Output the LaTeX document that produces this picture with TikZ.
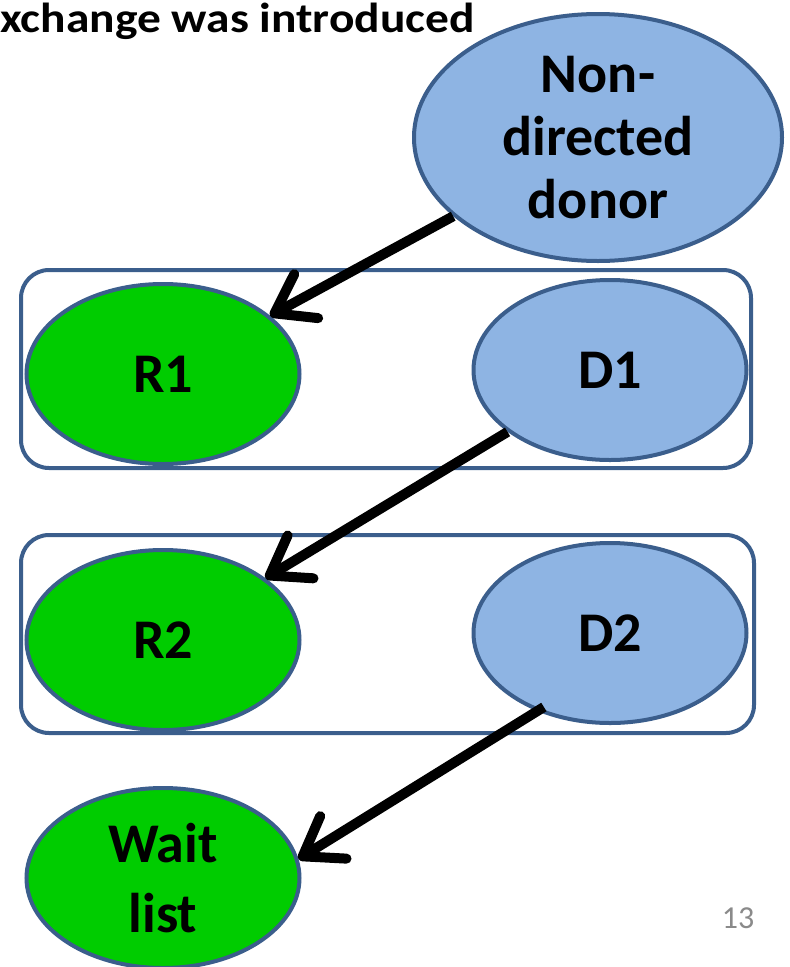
\documentclass[tikz,border=0pt]{standalone}
\usepackage{fontspec}
\setmainfont{Carlito}
\usetikzlibrary{shapes.geometric,arrows.meta}
\definecolor{donorblue}{HTML}{8EB4E3}
\definecolor{edgeblue}{HTML}{3B5E8C}
\definecolor{recipgreen}{HTML}{00CC00}
\definecolor{pagegray}{HTML}{8A8A8A}
\begin{document}
\begin{tikzpicture}[x=1pt,y=-1pt,
    person/.style={ellipse,draw=edgeblue,line width=4pt,inner sep=0pt,align=center,
        font=\fontsize{56}{63}\selectfont\bfseries,minimum width=273pt,minimum height=180pt},
    donor/.style={person,fill=donorblue},
    recip/.style={person,fill=recipgreen},
    pairbox/.style={draw=edgeblue,line width=4pt,rounded corners=28pt,minimum width=730pt,minimum height=198pt},
    gift/.style={line width=10pt,-{Straight Barb[length=36pt,width=50pt,line width=0pt 1,round]}}]
    \useasboundingbox (0,0) rectangle (790,967);

    \node[anchor=base west,font=\fontsize{42}{42}\selectfont\bfseries,inner sep=0pt] (title) at (0,32) {\scalebox{1.13}[1]{xchange was introduced}};

    % the two pairs
    \node[pairbox] (pair1) at (386,369) {};
    \node[pairbox,minimum width=733pt] (pair2) at (387.5,634) {};

    \node[donor,minimum width=368pt,minimum height=247pt] (ndd) at (598,137.5) {Non-\\directed\\donor};
    \node[recip] (R1) at (163,374) {R1};
    \node[donor] (D1) at (610,370) {D1};
    \node[recip] (R2) at (163,640) {R2};
    \node[donor] (D2) at (610,633) {D2};
    \node[recip,font=\fontsize{56}{70}\selectfont\bfseries] (wait) at (163,878) {Wait\\list};

    \draw[gift] (ndd) -- (R1);
    \draw[gift] (D1) -- (R2);
    \draw[gift,shorten <=-8pt] (D2.227) -- (wait.8);

    \node[text=pagegray,font=\fontsize{32}{32}\selectfont] (page) at (738,918) {13};
\end{tikzpicture}
\end{document}
